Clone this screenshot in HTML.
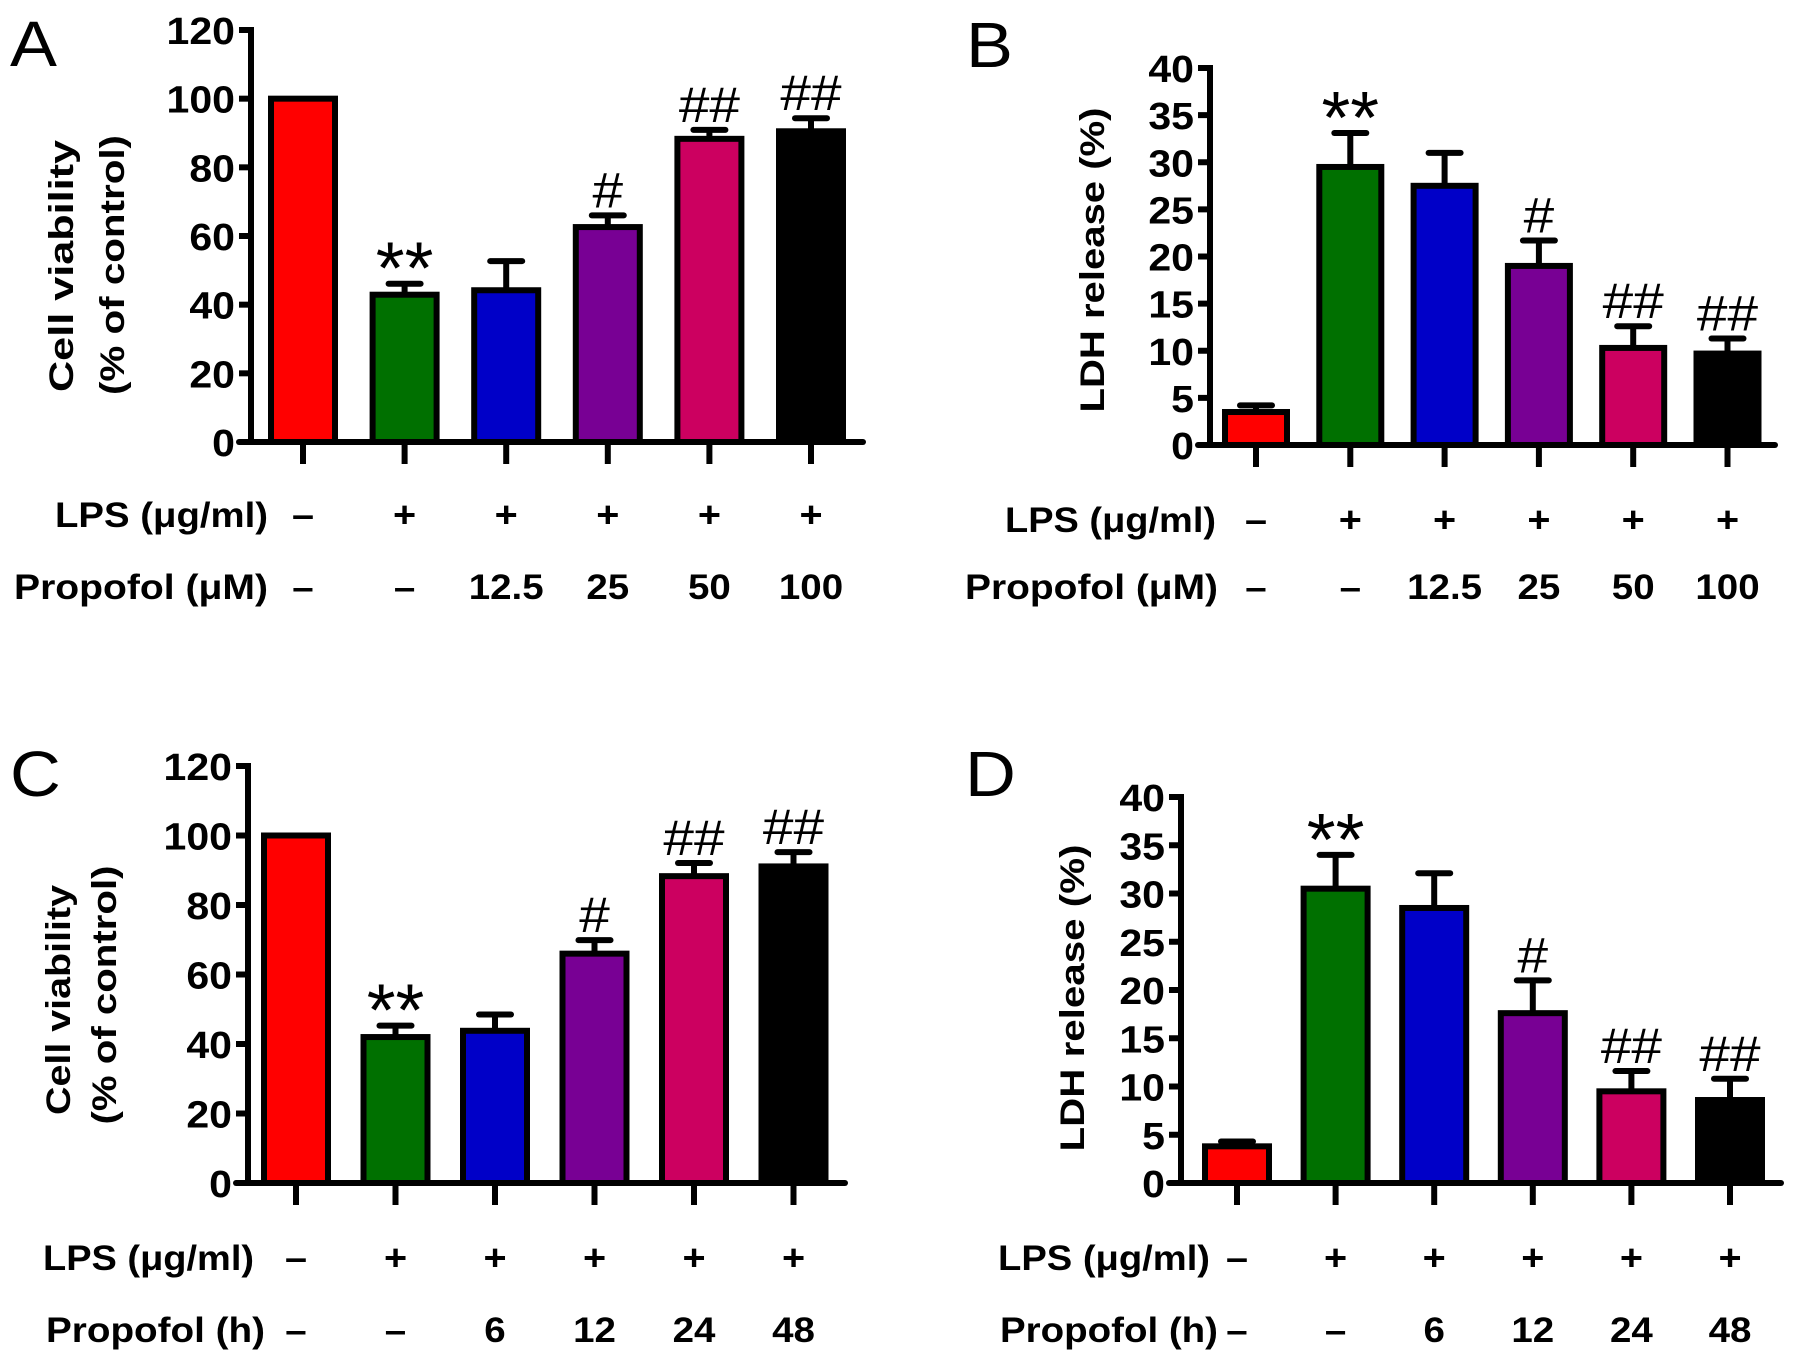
<!DOCTYPE html>
<html><head><meta charset="utf-8"><style>
html,body{margin:0;padding:0;background:#fff;}
svg{display:block;}
text{font-family:"Liberation Sans",Arial,sans-serif;fill:#000;}
</style></head>
<body>
<svg id="fig" width="1795" height="1359" viewBox="0 0 1795 1359" xmlns="http://www.w3.org/2000/svg"></svg>
<script>
// ---- data ----
const colors = ['#ff0000','#007000','#0000c8','#780094','#cc0060','#000000'];
const lpsSigns = ['-','+','+','+','+','+'];
const doseLabels = ['-','-','12.5','25','50','100'];
const timeLabels = ['-','-','6','12','24','48'];
const viabTicks = [0,20,40,60,80,100,120];
const ldhTicks = [0,5,10,15,20,25,30,35,40];
const aValues = [100,42.9,44.2,62.6,88.3,90.5];
const aErrors = [0,3.2,8.5,3.4,2.6,3.8];
const aMarks = ['','**','','#','##','##'];
const bValues = [3.5,29.5,27.5,19.0,10.3,9.7];
const bErrors = [0.7,3.6,3.5,2.7,2.3,1.6];
const bMarks = ['','**','','#','##','##'];
const cValues = [100,42.0,43.8,66.0,88.3,91.1];
const cErrors = [0,3.3,4.7,3.9,3.8,4.1];
const cMarks = ['','**','','#','##','##'];
const dValues = [3.8,30.5,28.5,17.6,9.5,8.6];
const dErrors = [0.5,3.5,3.6,3.4,2.1,2.2];
const dMarks = ['','**','','#','##','##'];

const NS='http://www.w3.org/2000/svg';
const svg=document.getElementById('fig');
function mk(tag,attrs,parent){const e=document.createElementNS(NS,tag);for(const k in attrs)e.setAttribute(k,attrs[k]);(parent||svg).appendChild(e);return e;}
function txt(parent,s,x,y,size,weight,anchor,sx,len){
  const g=mk('g',{transform:`translate(${x},${y}) scale(${sx||1},1)`},parent);
  const a={x:0,y:0,'font-size':size,'font-weight':weight,'text-anchor':anchor||'middle'};
  if(len){a.textLength=len/(sx||1);a.lengthAdjust='spacingAndGlyphs';}
  const t=mk('text',a,g);t.textContent=s;return t;
}

function panel(cfg){
  const g=mk('g',{});
  
  
  const yMax=cfg.ticks[cfg.ticks.length-1];
  const ys=v=>cfg.y0-(v/yMax)*(cfg.y0-cfg.yTop);
  const xs=i=>cfg.x0c+i*cfg.step;
  const L=txt(g,cfg.letter,cfg.letterX,cfg.letterY,64,'normal','start',1.1);
  
  
  cfg.values.forEach((v,i)=>{
    const cx=xs(i),top=ys(v),w=cfg.bw;
    if(cfg.errors[i]>0){
      const ce=ys(v+cfg.errors[i]);
      const el=mk('line',{x1:cx,x2:cx,y1:top,y2:ce,stroke:'#000','stroke-width':6},g);
      
      
      mk('line',{x1:cx-16,x2:cx+16,y1:ce,y2:ce,stroke:'#000','stroke-width':6,'stroke-linecap':'round'},g);
    }
    const r=mk('rect',{x:cx-w/2,y:top,width:w,height:cfg.y0-top,fill:colors[i],stroke:'#000','stroke-width':6},g);
    
    
    if(cfg.marks[i]){
      const ce=ys(v+cfg.errors[i]);
      const isStar=cfg.marks[i]==='**';
      const m=txt(g,cfg.marks[i],cx,ce-(isStar?-10:8),isStar?74:50,'normal','middle',isStar?1.0:1.1);
      
      
    }
    mk('line',{x1:cx,x2:cx,y1:cfg.y0,y2:cfg.y0+22,stroke:'#000','stroke-width':6},g);
    const s1=txt(g,lpsSigns[i]==='-'?'–':'+',cx,cfg.row1,36,'bold','middle',1.1);
    
    
    const lab=cfg.labels[i]==='-'?'–':cfg.labels[i];
    const s2=txt(g,lab,cx,cfg.row2,35,'bold','middle',1.1);
    
    
  });
  const ya=mk('line',{x1:cfg.x0,x2:cfg.x0,y1:cfg.yTop-3,y2:cfg.y0,stroke:'#000','stroke-width':6},g);
  
  
  const xa=mk('line',{x1:cfg.x0-12,x2:cfg.xEnd,y1:cfg.y0,y2:cfg.y0,stroke:'#000','stroke-width':6,'stroke-linecap':'round'},g);
  
  
  cfg.ticks.forEach(t=>{
    const y=ys(t);
    mk('line',{x1:cfg.x0-12,x2:cfg.x0,y1:y,y2:y,stroke:'#000','stroke-width':6},g);
    const tl=txt(g,String(t),cfg.x0-16,y+14,38,'bold','end',1.08);
    
    
  });
  cfg.titles.forEach(tt=>{
    const tg=mk('g',{transform:`translate(${tt.x},${tt.cy}) rotate(-90)`},g);
    const t=mk('text',{x:0,y:0,'font-size':34,'font-weight':'bold','text-anchor':'middle',textLength:tt.len,lengthAdjust:'spacingAndGlyphs'},tg);
    t.textContent=tt.s;
    
    
  });
  const r1=txt(g,'LPS (μg/ml)',cfg.r1x,cfg.row1,35,'bold','end',1,cfg.r1len);
  
  
  const r2=txt(g,cfg.r2text,cfg.r2x,cfg.row2,35,'bold','end',1,cfg.r2len);
  
  
}

panel({name:'panel-a',letter:'A',letterX:10,letterY:66,x0:251,xEnd:863,y0:442,yTop:30,ticks:viabTicks,
  x0c:303,step:101.6,bw:64,values:aValues,errors:aErrors,marks:aMarks,labels:doseLabels,row1:527,row2:599,
  titles:[{s:'Cell viability',x:73,cy:266,len:252},{s:'(% of control)',x:124,cy:265,len:260}],
  r1x:268,r1len:213,r2text:'Propofol (μM)',r2x:268,r2len:254});
panel({name:'panel-b',letter:'B',letterX:966,letterY:67,x0:1210,xEnd:1775,y0:445,yTop:68,ticks:ldhTicks,
  x0c:1256,step:94.3,bw:62,values:bValues,errors:bErrors,marks:bMarks,labels:doseLabels,row1:532,row2:599,
  titles:[{s:'LDH release (%)',x:1104,cy:260,len:305}],
  r1x:1216,r1len:211,r2text:'Propofol (μM)',r2x:1218,r2len:253});
panel({name:'panel-c',letter:'C',letterX:10,letterY:796,x0:248,xEnd:845,y0:1183,yTop:766,ticks:viabTicks,
  x0c:296,step:99.5,bw:64,values:cValues,errors:cErrors,marks:cMarks,labels:timeLabels,row1:1270,row2:1342,
  titles:[{s:'Cell viability',x:70,cy:1000,len:230},{s:'(% of control)',x:116,cy:995,len:259}],
  r1x:254,r1len:211,r2text:'Propofol (h)',r2x:265,r2len:219});
panel({name:'panel-d',letter:'D',letterX:965,letterY:796,x0:1181,xEnd:1781,y0:1183,yTop:797,ticks:ldhTicks,
  x0c:1237,step:98.6,bw:64,values:dValues,errors:dErrors,marks:dMarks,labels:timeLabels,row1:1270,row2:1342,
  titles:[{s:'LDH release (%)',x:1084,cy:998,len:307}],
  r1x:1210,r1len:212,r2text:'Propofol (h)',r2x:1218,r2len:218});
</script>
</body></html>
